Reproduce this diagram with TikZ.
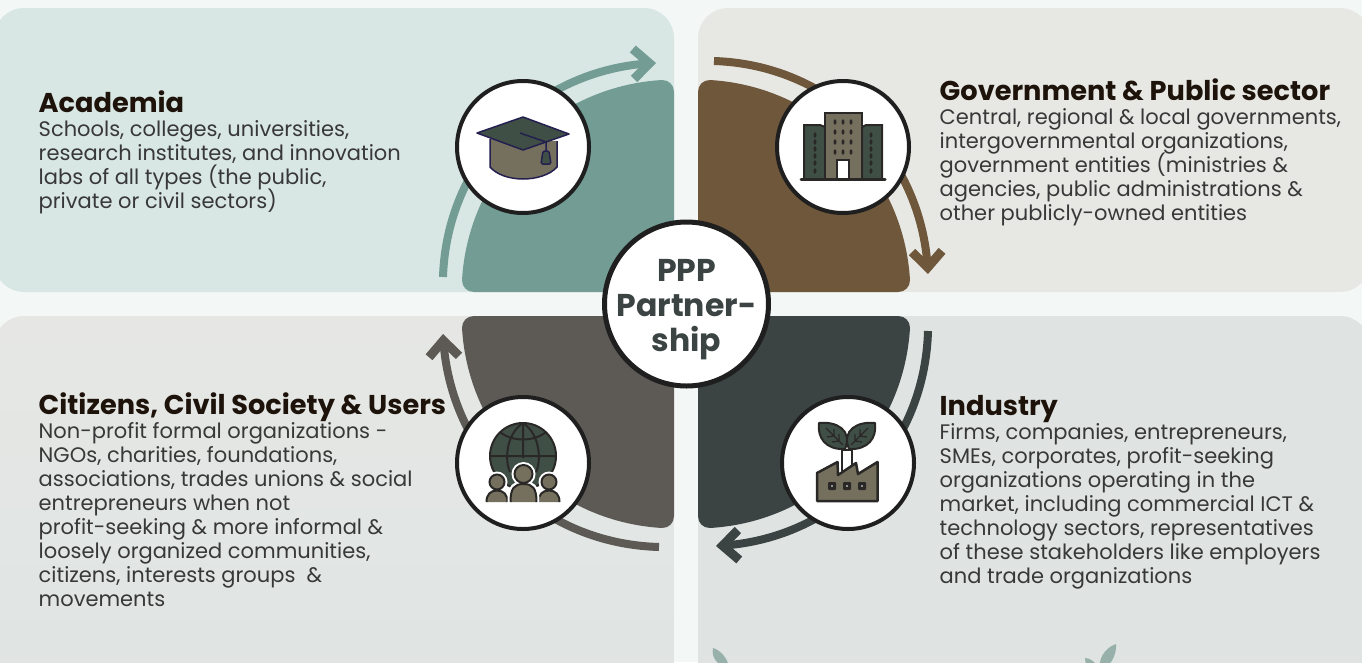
\documentclass[tikz,border=0pt]{standalone}
\usepackage{fontspec}
\setmainfont{Poppins}
\usetikzlibrary{arrows.meta,bending}
\definecolor{pageBg}{HTML}{F3F7F6}
\definecolor{tealSoft}{HTML}{D9E7E4}
\definecolor{brownSoft}{HTML}{E7E8E4}
\definecolor{greySoft}{HTML}{E6E7E4}
\definecolor{greySoftLow}{HTML}{DFE5E4}
\definecolor{slateSoft}{HTML}{DFE4E3}
\definecolor{tealDark}{HTML}{729C94}
\definecolor{brownDark}{HTML}{6E573B}
\definecolor{greyDark}{HTML}{5D5A55}
\definecolor{slateDark}{HTML}{3B4443}
\definecolor{iconGreen}{HTML}{3F4F46}
\definecolor{iconKhaki}{HTML}{75705E}
\definecolor{iconNavy}{HTML}{231F4F}
\definecolor{iconInk}{HTML}{2A2826}
\definecolor{leafTint}{HTML}{97B1AA}
\newcommand{\quarterblade}{(0,-200) .. controls (0,-207) and (-5,-212) .. (-12,-212)
  .. controls (-120,-205.6) and (-205.6,-120) .. (-212,-12)
  .. controls (-212,-5) and (-207,0) .. (-200,0) -- (0,0) -- cycle}
\newcommand{\tightlines}{\lineskiplimit=-30pt\relax}
\tikzset{
  headtxt/.style={anchor=base west, inner sep=0pt, text=black!85!brown, font=\fontsize{27.2}{28}\selectfont\bfseries},
  bodytxt/.style={anchor=north west, inner sep=0pt, align=left, text=black!78, font=\fontsize{21}{24}\selectfont\tightlines},
  iconring/.style={circle, draw=black!88, line width=4pt, fill=white, minimum size=132pt, inner sep=0pt},
  flowarrow/.style={line width=8pt, -{Straight Barb[length=16pt,width=30pt,line width=9pt,flex=1]}},
  panel/.style={rounded corners=30pt}
}
\begin{document}
\begin{tikzpicture}[x=1pt,y=-1pt]
\useasboundingbox (0,0) rectangle (1362,662);
\fill[pageBg] (0,0) rectangle (1362,662);
% panels
\fill[tealSoft,panel] (-6,8) rectangle (674,292);
\fill[brownSoft,panel] (698,8) rectangle (1370,292);
\shade[panel,top color=greySoft,bottom color=greySoftLow] (-6,316) rectangle (674,700);
\fill[slateSoft,panel] (698,316) rectangle (1370,700);
% blades
\fill[tealDark,shift={(674,292)}] \quarterblade;
\fill[brownDark,shift={(698,292)},xscale=-1] \quarterblade;
\fill[greyDark,shift={(674,316)},yscale=-1] \quarterblade;
\fill[slateDark,shift={(698,316)},xscale=-1,yscale=-1] \quarterblade;
% arrows
\coordinate (acaFrom) at (443,277);
\coordinate (acaTo) at (656,63);
\coordinate (govFrom) at (714,61);
\coordinate (govTo) at (928,274);
\coordinate (indFrom) at (928,331);
\coordinate (indTo) at (716,546);
\coordinate (citFrom) at (659,547);
\coordinate (citTo) at (443,334);
\draw[flowarrow,tealDark] (acaFrom) to[bend left=43] (acaTo);
\draw[flowarrow,brownDark] (govFrom) to[bend left=43] (govTo);
\draw[flowarrow,slateDark] (indFrom) to[bend left=43] (indTo);
\draw[flowarrow,greyDark] (citFrom) to[bend left=43] (citTo);
% rings
\node[iconring] (acaRing) at (523,147) {};
\node[iconring] (govRing) at (843,147) {};
\node[iconring] (citRing) at (523,463) {};
\node[iconring] (indRing) at (848,463) {};
% cap
\filldraw[fill=iconKhaki,draw=iconNavy,line width=1.5pt] (490,139) -- (490,167) .. controls (497,175) and (510,179) .. (523,179) .. controls (536,179) and (550,175) .. (557,167) -- (557,141);
\filldraw[fill=iconGreen,draw=iconNavy,line width=1.5pt,line join=round] (477,133) -- (523,117) -- (569,134) -- (523,150) -- cycle;
\draw[iconNavy,line width=1.5pt] (520,133) -- (546,142) -- (546,151);
\filldraw[fill=iconGreen,draw=iconNavy,line width=1.5pt,rounded corners=1.5pt] (543,151) -- (549,151) -- (551,164) -- (541,164) -- cycle;
% offices
\filldraw[fill=iconGreen,draw=iconInk,line width=2pt] (804,179) -- (804,125) -- (820,125) -- (825,127) -- (825,179);
\filldraw[fill=iconGreen,draw=iconInk,line width=2pt] (882,179) -- (882,125) -- (866,125) -- (862,127) -- (862,179);
\filldraw[fill=iconKhaki,draw=iconInk,line width=2.5pt] (825,179) rectangle (862,113);
\foreach \colx in {835,843,851} {
  \foreach \rowy in {122,132,142,152} {
    \fill[iconInk] (\colx,\rowy) ellipse (1.5 and 2.7);
  }
}
\foreach \colx in {815,871} {
  \foreach \rowy in {135,142,149,156,163,171} {
    \fill[iconInk] (\colx,\rowy) ellipse (1.5 and 2.7);
  }
}
\filldraw[fill=white,draw=iconInk,line width=2.5pt] (837,179) -- (837,160) -- (849,160) -- (849,179);
\draw[iconInk,line width=3pt,line cap=round] (801,179) -- (885,179);
% globe and people
\filldraw[fill=iconGreen,draw=iconInk,line width=2pt] (523,456) circle (33);
\draw[iconInk,line width=2pt] (490,456) -- (556,456) (523,423) -- (523,458) (523,423) .. controls (505,435) and (505,462) .. (510,472) (523,423) .. controls (541,435) and (541,462) .. (536,472);
\draw[iconInk,line width=2pt] (500,432) .. controls (512,442) and (534,442) .. (546,432);
\foreach \px/\py/\hr/\bw in {497/482/7.5/10.5, 549/482/7.5/10.5, 523.5/474/9/13} {
  \fill[white] (\px,\py) circle (\hr+3);
  \fill[white] (\px-\bw-3,503) .. controls (\px-\bw-3,\py+\hr) and (\px-\bw+3,\py+\hr-1) .. (\px,\py+\hr-1) .. controls (\px+\bw-3,\py+\hr-1) and (\px+\bw+3,\py+\hr) .. (\px+\bw+3,503) -- cycle;
  \filldraw[fill=iconKhaki,draw=iconInk,line width=2pt] (\px-\bw,502) .. controls (\px-\bw,\py+\hr+5) and (\px-\bw+4,\py+\hr+1) .. (\px,\py+\hr+1) .. controls (\px+\bw-4,\py+\hr+1) and (\px+\bw,\py+\hr+5) .. (\px+\bw,502);
  \filldraw[fill=iconKhaki,draw=iconInk,line width=2pt] (\px,\py) circle (\hr);
}
% factory
\filldraw[fill=white,draw=iconInk,line width=2.5pt] (842,471) -- (842,450) -- (852,450) -- (852,471);
\filldraw[fill=iconKhaki,draw=iconInk,line width=2.5pt,line join=round] (817,473) -- (837.5,462) -- (838,475) -- (856,463) -- (858,474) -- (877.5,462) -- (877.5,501) -- (817,501) -- cycle;
\foreach \winx in {832,847,862} {
  \fill[iconInk,rounded corners=1pt] (\winx-4,482) rectangle (\winx+4,490);
  \fill[white] (\winx,486) circle (0.9);
}
\filldraw[fill=iconGreen,draw=iconInk,line width=2pt,line join=round] (845,449) .. controls (826,450) and (817,438) .. (819,423) .. controls (836,421) and (853,430) .. (845,449) -- cycle;
\filldraw[fill=iconGreen,draw=iconInk,line width=2pt,line join=round] (849,449) .. controls (868,450) and (877,438) .. (875,423) .. controls (858,421) and (841,430) .. (849,449) -- cycle;
\draw[iconInk,line width=1.3pt] (843,445) -- (826,428) (834,436) -- (834,429) (834,436) -- (827,437) (839,441) -- (832,442) (839,441) -- (839,434);
\draw[iconInk,line width=1.3pt] (851,445) -- (868,428) (860,436) -- (860,429) (860,436) -- (867,437) (855,441) -- (862,442) (855,441) -- (855,434);
% bottom leaves
\fill[leafTint] (713,648) .. controls (720,650) and (728,658) .. (729,668) .. controls (718,666) and (711,658) .. (713,648) -- cycle;
\fill[leafTint] (1116,644) .. controls (1117,655) and (1110,668) .. (1100,670) .. controls (1098,660) and (1104,648) .. (1116,644) -- cycle;
\fill[leafTint] (1085,658) .. controls (1090,658) and (1095,662) .. (1097,666) -- (1086,666) -- cycle;
% centre
\node[circle, draw=black!88, line width=5pt, fill=white, minimum size=164pt, inner sep=0pt] (pppHub) at (686.5,304) {};
\node[inner sep=0pt, align=center, text=slateDark, font=\fontsize{31.5}{35}\selectfont\bfseries\tightlines] (pppText) at (686.5,310) {PPP\\Partner-\\ship};
% texts
\node[headtxt] (acaHead) at (38.5,112) {Academia};
\node[bodytxt] (acaBody) at (38.5,120) {Schools, colleges, universities,\\
  research institutes, and innovation\\
  labs of all types (the public,\\
  private or civil sectors)};
\node[headtxt] (govHead) at (939.5,100) {Government \& Public sector};
\node[bodytxt] (govBody) at (939.5,108) {Central, regional \& local governments,\\
  intergovernmental organizations,\\
  government entities (ministries \&\\
  agencies, public administrations \&\\
  other publicly-owned entities};
\node[headtxt] (citHead) at (38.5,414) {Citizens, Civil Society \& Users};
\node[bodytxt] (citBody) at (38.5,422) {Non-profit formal organizations -\\
  NGOs, charities, foundations,\\
  associations, trades unions \& social\\
  entrepreneurs when not\\
  profit-seeking \& more informal \&\\
  loosely organized communities,\\
  citizens, interests groups\ \ \&\\
  movements};
\node[headtxt] (indHead) at (939.5,415) {Industry};
\node[bodytxt] (indBody) at (939.5,423) {Firms, companies, entrepreneurs,\\
  SMEs, corporates, profit-seeking\\
  organizations operating in the\\
  market, including commercial ICT \&\\
  technology sectors, representatives\\
  of these stakeholders like employers\\
  and trade organizations};
\end{tikzpicture}
\end{document}
